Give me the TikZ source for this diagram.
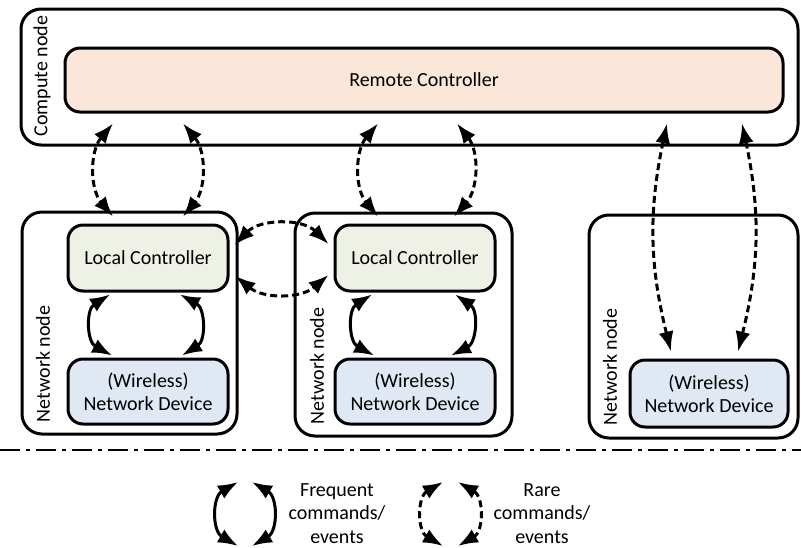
\documentclass[tikz,border=0pt]{standalone}
\usepackage{fontspec}
\setmainfont{Carlito}
\usetikzlibrary{arrows.meta,calc}
\definecolor{rcfill}{HTML}{FBE6DA}
\definecolor{lcfill}{HTML}{EEF1E5}
\definecolor{wdfill}{HTML}{DFE8F3}
\begin{document}
\begin{tikzpicture}[x=1pt,y=-1pt,line width=3pt,
	box/.style={draw,rounded corners=15pt,inner sep=0pt,align=center,font=\fontsize{20}{23}\selectfont},
	hostbox/.style={draw,rounded corners=20pt,inner sep=0pt},
	lbl/.style={rotate=90,inner sep=0pt,font=\fontsize{20}{23}\selectfont},
	freq/.style={<->,>={Latex[length=20pt,width=15pt]}},
	rare/.style={freq,dash pattern=on 7pt off 4pt}]
	\useasboundingbox (0,0) rectangle (801,547);
	\node[hostbox,minimum width=777pt,minimum height=136pt] (cmp) at (409.5,77) {};
	\node[lbl] (cmplbl) at (42,76) {Compute node};
	\node[box,fill=rcfill,minimum width=718pt,minimum height=64pt] (rc) at (424,80) {Remote Controller};
	\node[hostbox,minimum width=215pt,minimum height=222pt] (net1) at (129.5,323) {};
	\node[lbl] (netlbl1) at (43,364) {Network node};
	\node[box,fill=lcfill,minimum width=160pt,minimum height=66pt] (lc1) at (148,258) {Local Controller};
	\node[box,fill=wdfill,minimum width=160pt,minimum height=65pt] (wd1) at (148,391.5) {(Wireless)\\Network Device};
	\node[hostbox,minimum width=217pt,minimum height=223pt] (net2) at (403.5,324.5) {};
	\node[lbl] (netlbl2) at (317,366) {Network node};
	\node[box,fill=lcfill,minimum width=160pt,minimum height=66pt] (lc2) at (415,258) {Local Controller};
	\node[box,fill=wdfill,minimum width=160pt,minimum height=65pt] (wd2) at (415,391.5) {(Wireless)\\Network Device};
	\node[hostbox,minimum width=209pt,minimum height=223pt] (net3) at (693.5,326.5) {};
	\node[lbl] (netlbl3) at (610,367) {Network node};
	\node[box,fill=wdfill,minimum width=158pt,minimum height=67pt] (wd3) at (709,393.5) {(Wireless)\\Network Device};
	\draw[rare] ($(lc1.north |- rc.south)+(-35,10)$) to[bend right=40] ($(lc1.north)+(-35,-7)$);
	\draw[rare] ($(lc1.north |- rc.south)+(35,10)$) to[bend left=40] ($(lc1.north)+(35,-7)$);
	\draw[rare] ($(lc2.north |- rc.south)+(-37,10)$) to[bend right=40] ($(lc2.north)+(-37,-7)$);
	\draw[rare] ($(lc2.north |- rc.south)+(42,10)$) to[bend left=40] ($(lc2.north)+(39,-7)$);
	\draw[rare] ($(wd3.north |- rc.south)+(-42,10)$) to[bend right=13] ($(wd3.north)+(-38,-7)$);
	\draw[rare] ($(wd3.north |- rc.south)+(33,10)$) to[bend left=13] ($(wd3.north)+(29,-7)$);
	\draw[rare] ($(lc1.east)+(5,-13)$) to[bend left=45] ($(lc2.west)+(-5,-14)$);
	\draw[rare] ($(lc1.east)+(6,18)$) to[bend right=40] ($(lc2.west)+(-5,17)$);
	\draw[freq] ($(lc1.south)+(-38,2)$) to[bend right=60,looseness=1.2] ($(wd1.north)+(-36,-2)$);
	\draw[freq] ($(lc1.south)+(32,2)$) to[bend left=60,looseness=1.2] ($(wd1.north)+(34,-2)$);
	\draw[freq] ($(lc2.south)+(-43,2)$) to[bend right=60,looseness=1.2] ($(wd2.north)+(-41,-2)$);
	\draw[freq] ($(lc2.south)+(40,2)$) to[bend left=60,looseness=1.2] ($(wd2.north)+(36,-2)$);
	\draw[line width=2pt,dash pattern=on 20pt off 6pt on 4pt off 6pt] (0,450) -- (801,450);
	\coordinate (fqa) at (238,482);
	\coordinate (fqb) at (238,546);
	\coordinate (fqc) at (252,482);
	\coordinate (fqd) at (252,546);
	\coordinate (rra) at (443,482);
	\coordinate (rrb) at (443,546);
	\coordinate (rrc) at (458,482);
	\coordinate (rrd) at (458,546);
	\draw[freq] (fqa) to[bend right=60,looseness=1.2] (fqb);
	\draw[freq] (fqc) to[bend left=60,looseness=1.2] (fqd);
	\draw[rare] (rra) to[bend right=60,looseness=1.2] (rrb);
	\draw[rare] (rrc) to[bend left=60,looseness=1.2] (rrd);
	\node[align=center,font=\fontsize{20}{23.5}\selectfont] (fqtxt) at (337,513.5) {Frequent\\commands/\\events};
	\node[align=center,font=\fontsize{20}{23.5}\selectfont] (rrtxt) at (542,513.5) {Rare\\commands/\\events};
\end{tikzpicture}
\end{document}
